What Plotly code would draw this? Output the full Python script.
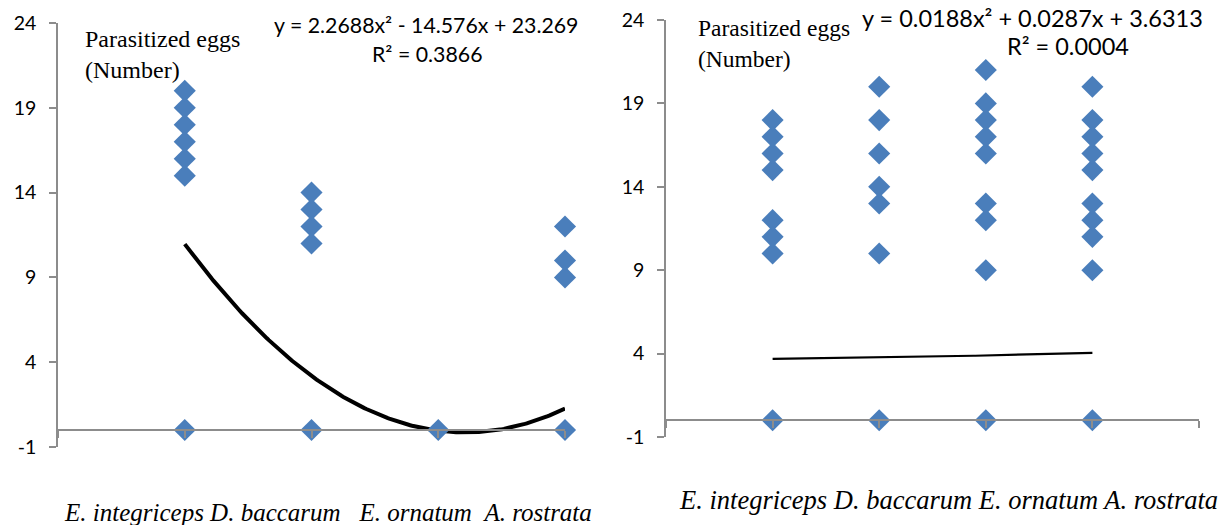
import numpy as np
import plotly.graph_objects as go

# ---------------- data ----------------
categories = ["E. integriceps", "D. baccarum", "E. ornatum", "A. rostrata"]
cat_pos = [1, 2, 3, 4]

# Left panel: parasitized eggs per host species
left_values = [
    [0, 15, 16, 17, 18, 19, 20],   # E. integriceps
    [0, 11, 12, 13, 14],           # D. baccarum
    [0],                           # E. ornatum
    [0, 9, 10, 12],                # A. rostrata
]
left_coef = [2.2688, -14.576, 23.269]
left_eq = "y = 2.2688x² - 14.576x + 23.269"
left_r2 = "R² = 0.3866"

# Right panel
right_values = [
    [0, 10, 11, 12, 15, 16, 17, 18],          # E. integriceps
    [0, 10, 13, 14, 16, 18, 20],              # D. baccarum
    [0, 9, 12, 13, 16, 17, 18, 19, 21],       # E. ornatum
    [0, 9, 11, 12, 13, 15, 16, 17, 18, 20],   # A. rostrata
]
right_coef = [0.0188, 0.0287, 3.6313]
right_eq = "y = 0.0188x² + 0.0287x + 3.6313"
right_r2 = "R² = 0.0004"

y_ticks = [-1, 4, 9, 14, 19, 24]
y_label = "Parasitized eggs<br>(Number)"

# ---------------- styling ----------------
W, H = 1223, 525
BLUE = "#4A7EBB"
GRAY = "#8C8C8C"
SANS = "Lato"
SERIF = "Liberation Serif"
TICKFONT = dict(family=SANS, size=19.5, color="#000000")

def px_x(p):
    return p / W

def px_y(p):
    return (H - p) / H

panels = [
    dict(vals=left_values, coef=left_coef, eq=left_eq, r2=left_r2,
         xdom=[px_x(58), px_x(565)], ydom=[px_y(447), px_y(23)], xr=[0, 4],
         lw=4.0, ax="x", ay="y", xa="xaxis", ya="yaxis"),
    dict(vals=right_values, coef=right_coef, eq=right_eq, r2=right_r2,
         xdom=[px_x(666), px_x(1199)], ydom=[px_y(437), px_y(20)], xr=[0, 5],
         lw=2.2, ax="x2", ay="y2", xa="xaxis2", ya="yaxis2"),
]

fig = go.Figure()
layout = dict(
    template="none",
    width=W, height=H, autosize=False,
    margin=dict(l=0, r=0, t=0, b=0, pad=0),
    paper_bgcolor="white", plot_bgcolor="white",
    showlegend=False,
    annotations=[],
)

YMIN, YMAX = -1, 24
for p in panels:
    xs, ys = [], []
    for c, v in zip(cat_pos, p["vals"]):
        xs += [c] * len(v)
        ys += v
    # trend line
    xl = np.linspace(cat_pos[0], cat_pos[-1], 200)
    yl = np.polyval(p["coef"], xl)
    fig.add_trace(go.Scatter(x=xl, y=yl, mode="lines",
                             line=dict(color="black", width=p["lw"]),
                             xaxis=p["ax"], yaxis=p["ay"], hoverinfo="skip",
                             cliponaxis=False))
    fig.add_trace(go.Scatter(x=xs, y=ys, mode="markers",
                             marker=dict(symbol="diamond", size=17, color=BLUE,
                                         line=dict(width=0)),
                             xaxis=p["ax"], yaxis=p["ay"], cliponaxis=False))
    # x axis crossing at y = 0
    pos = p["ydom"][0] + (0 - YMIN) / (YMAX - YMIN) * (p["ydom"][1] - p["ydom"][0])
    layout[p["xa"]] = dict(
        domain=p["xdom"], range=p["xr"], anchor="free", position=pos,
        showline=True, linecolor=GRAY, linewidth=1.6,
        ticks="outside", ticklen=7, tickcolor=GRAY, tickwidth=1.6,
        tickvals=list(range(p["xr"][0], p["xr"][1] + 1)),
        showticklabels=False, showgrid=False, zeroline=False, fixedrange=True,
        automargin=False,
    )
    layout[p["ya"]] = dict(
        domain=p["ydom"], range=[YMIN, YMAX], anchor=p["ax"],
        tickvals=y_ticks, ticktext=[str(t) for t in y_ticks],
        showline=True, linecolor=GRAY, linewidth=1.6,
        ticks="outside", ticklen=7, tickcolor=GRAY, tickwidth=1.6,
        tickfont=TICKFONT, ticklabelstandoff=9,
        showgrid=False, zeroline=False, fixedrange=True, automargin=False,
    )

ann = layout["annotations"]
# y labels (inside plot)
ann.append(dict(text=y_label, x=px_x(83), y=px_y(24), xref="paper", yref="paper",
                xanchor="left", yanchor="top", align="left", showarrow=False,
                font=dict(family=SERIF, size=24, color="black")))
ann.append(dict(text=y_label, x=px_x(696), y=px_y(13), xref="paper", yref="paper",
                xanchor="left", yanchor="top", align="left", showarrow=False,
                font=dict(family=SERIF, size=23.5, color="black")))
# equations
EQFONT_L = dict(family=SANS, size=21.3, color="black")
EQFONT_R = dict(family=SANS, size=23.5, color="black")
ann.append(dict(text=panels[0]["eq"], x=px_x(426), y=px_y(25), xref="paper", yref="paper",
                xanchor="center", yanchor="middle", showarrow=False, font=EQFONT_L))
ann.append(dict(text=panels[0]["r2"], x=px_x(427), y=px_y(54), xref="paper", yref="paper",
                xanchor="center", yanchor="middle", showarrow=False, font=EQFONT_L))
ann.append(dict(text=panels[1]["eq"], x=px_x(1032), y=px_y(18), xref="paper", yref="paper",
                xanchor="center", yanchor="middle", showarrow=False, font=EQFONT_R))
ann.append(dict(text=panels[1]["r2"], x=px_x(1068), y=px_y(46), xref="paper", yref="paper",
                xanchor="center", yanchor="middle", showarrow=False, font=EQFONT_R))
# category labels
NB = "\u00a0"
left_cat = (categories[0] + " " + categories[1] + NB * 3 + categories[2]
            + NB * 2 + categories[3])
right_cat = " ".join(categories)
ann.append(dict(text="<i>" + left_cat + "</i>", x=px_x(62), y=px_y(512),
                xref="paper", yref="paper", xanchor="left", yanchor="middle",
                showarrow=False, font=dict(family=SERIF, size=25, color="black")))
ann.append(dict(text="<i>" + right_cat + "</i>", x=px_x(677), y=px_y(500),
                xref="paper", yref="paper", xanchor="left", yanchor="middle",
                showarrow=False, font=dict(family=SERIF, size=26.5, color="black")))

fig.update_layout(**layout)
fig.write_html("out.html")
